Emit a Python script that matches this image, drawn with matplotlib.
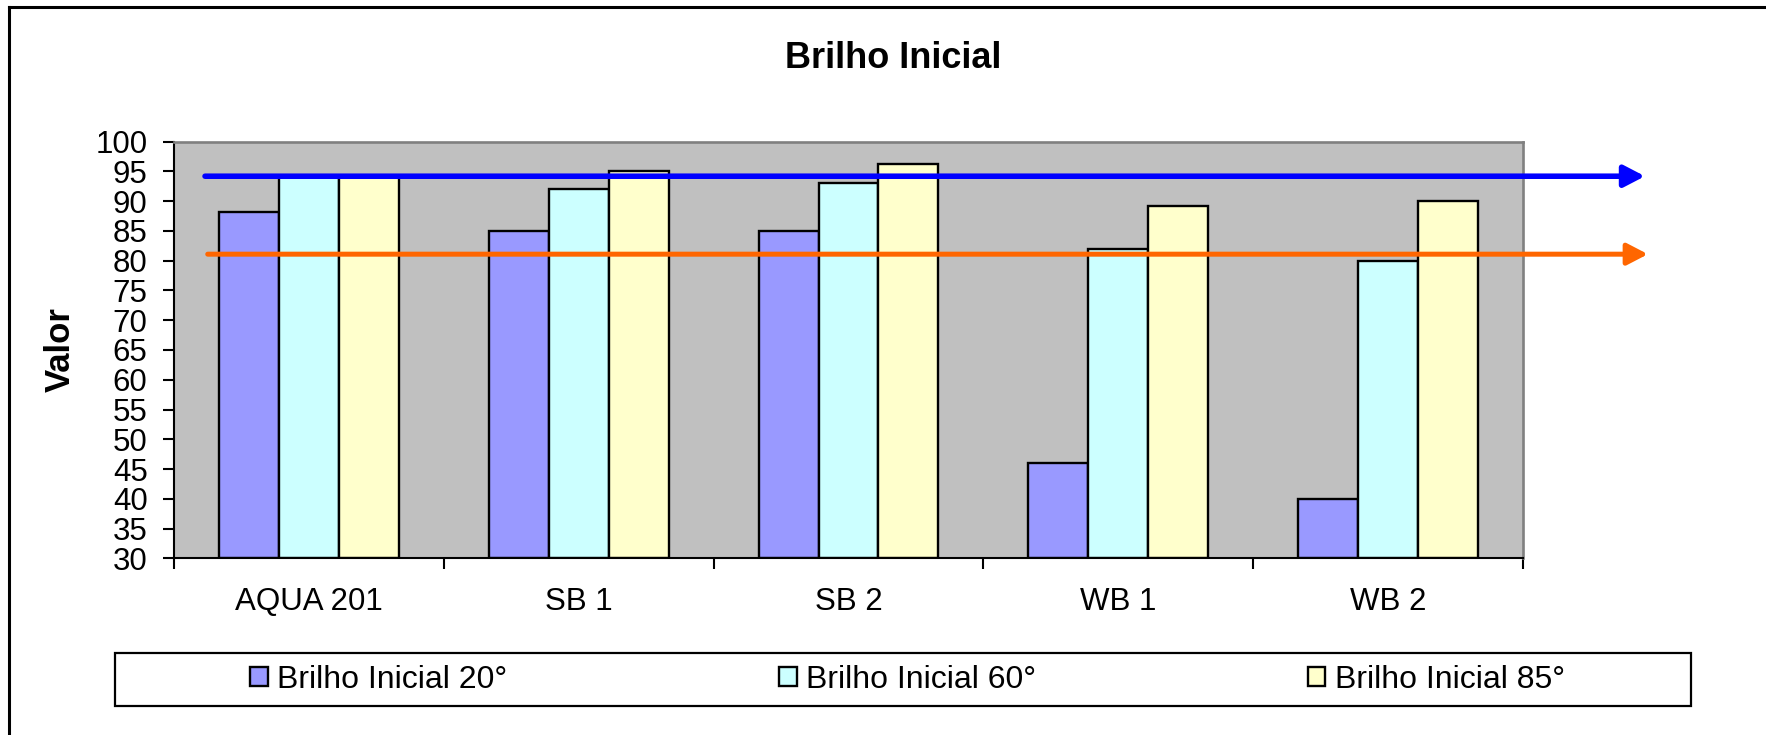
import numpy as np
import matplotlib
matplotlib.use("Agg")
import matplotlib.pyplot as plt
import matplotlib.patches as patches
from matplotlib.lines import Line2D

plt.rcParams['font.family'] = ['Liberation Sans', 'DejaVu Sans']

# data
categories = ['AQUA 201', 'SB 1', 'SB 2', 'WB 1', 'WB 2']
series_names = ['Brilho Inicial 20°', 'Brilho Inicial 60°', 'Brilho Inicial 85°']
brilho_20 = [88.2, 85.0, 85.0, 46.0, 40.0]
brilho_60 = [94.0, 92.0, 93.0, 82.0, 80.0]
brilho_85 = [94.0, 95.0, 96.3, 89.2, 90.0]
ref_blue = 94.2
ref_orange = 81.1
y_ticks = list(range(30, 101, 5))

colors = ['#9999FF', '#CCFFFF', '#FFFFCC']

W, H = 1766, 735
fig = plt.figure(figsize=(W / 100, H / 100), dpi=100)
ax = fig.add_axes([174 / W, 1 - 558.3 / H, (1523 - 174) / W, (558.3 - 141.7) / H])
ax.set_facecolor('#C0C0C0')

x = np.arange(len(categories))
bw = 1 / 4.5
for i, vals in enumerate([brilho_20, brilho_60, brilho_85]):
    ax.bar(x + (i - 1) * bw, np.array(vals) - 30, bw, bottom=30, color=colors[i],
           edgecolor='black', linewidth=1.7, label=series_names[i], zorder=2)

ax.set_xlim(-0.5, len(categories) - 0.5)
ax.set_ylim(30, 100)

# reference arrows
ax.annotate('', xy=(4.952, ref_blue), xytext=(-0.385, ref_blue),
            arrowprops=dict(arrowstyle='-|>,head_length=1.25,head_width=0.65', color='#0000FF',
                            lw=4.0, shrinkA=0, shrinkB=0, mutation_scale=10),
            annotation_clip=False, zorder=5)
ax.annotate('', xy=(4.963, ref_orange), xytext=(-0.375, ref_orange),
            arrowprops=dict(arrowstyle='-|>,head_length=1.25,head_width=0.65', color='#FF6600',
                            lw=3.6, shrinkA=0, shrinkB=0, mutation_scale=10),
            annotation_clip=False, zorder=5)

# axes styling
for s in ['left', 'bottom']:
    ax.spines[s].set_color('black')
    ax.spines[s].set_linewidth(1.5)
for s in ['top', 'right']:
    ax.spines[s].set_color('#808080')
    ax.spines[s].set_linewidth(1.9)

ax.set_yticks(y_ticks)
ax.tick_params(axis='y', length=8, width=1.5, pad=11, labelsize=22.5, direction='out')
ax.set_xticks(np.arange(len(categories) + 1) - 0.5)
ax.set_xticklabels([])
ax.tick_params(axis='x', which='major', length=8, width=1.5, direction='out')
ax.set_xticks(x, minor=True)
ax.set_xticklabels(categories, minor=True)
ax.tick_params(axis='x', which='minor', length=0, pad=21, labelsize=22.5)

ax.set_ylabel('Valor', fontsize=25, fontweight='bold')
ax.yaxis.set_label_coords((60 - 174) / (1523 - 174), 0.5)
ax.yaxis.label.set_va('center')

fig.text(893 / W, 1 - 67.7 / H, 'Brilho Inicial', fontsize=26, fontweight='bold',
         ha='center', va='baseline')

# legend
handles, labels = ax.get_legend_handles_labels()
fig.legend(handles, labels, loc='center', ncol=3, mode='expand',
           bbox_to_anchor=(250 / W, 1 - 700 / H, (1565 - 250) / W, 40 / H),
           frameon=False, fontsize=23, borderpad=0, borderaxespad=0,
           handlelength=0.55, handleheight=0.55, handletextpad=0.3)
fig.add_artist(patches.Rectangle((115 / W, 1 - 706 / H), (1691 - 115) / W, (706 - 653) / H,
                                 transform=fig.transFigure, fill=False,
                                 edgecolor='black', linewidth=1.6))

# outer chart border (left and top only visible)
fig.add_artist(Line2D([9 / W, 9 / W], [0, 1 - 7 / H], transform=fig.transFigure,
                      color='black', linewidth=2.2))
fig.add_artist(Line2D([9 / W, 1], [1 - 7 / H, 1 - 7 / H], transform=fig.transFigure,
                      color='black', linewidth=2.2))

fig.savefig('out.png', dpi=100)
